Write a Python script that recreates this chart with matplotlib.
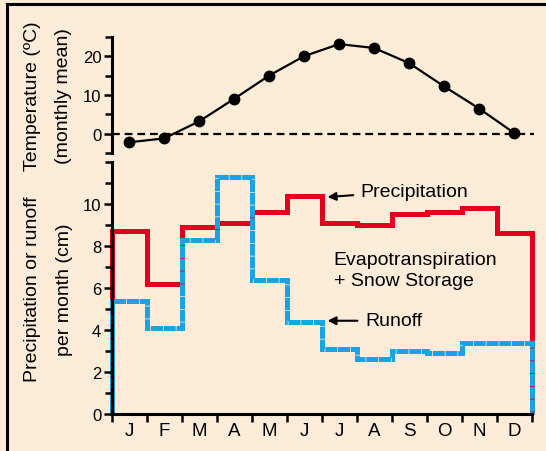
import matplotlib.pyplot as plt
from matplotlib.lines import Line2D

plt.rcParams['font.family'] = ['Liberation Sans', 'DejaVu Sans']

months = ['J', 'F', 'M', 'A', 'M', 'J', 'J', 'A', 'S', 'O', 'N', 'D']
temperature = [-2.2, -1.2, 3.2, 9.0, 15.0, 20.0, 23.1, 22.1, 18.2, 12.2, 6.5, 0.2]
precipitation = [8.7, 6.2, 8.9, 9.1, 9.6, 10.4, 9.1, 9.0, 9.5, 9.6, 9.8, 8.6]
runoff = [5.4, 4.1, 8.3, 11.3, 6.4, 4.4, 3.1, 2.6, 3.0, 2.9, 3.4, 3.4]

BG = '#FDECD8'
RED = '#E2001F'
BLUE = '#1AA3E3'

fig = plt.figure(figsize=(5.46, 4.52), dpi=100, facecolor=BG)
# frame lines (only left and top are visible in the original)
fig.add_artist(Line2D([0.0128, 0.0128], [0, 0.99], transform=fig.transFigure, color='k', lw=2.2))
fig.add_artist(Line2D([0.0128, 1.0], [0.99, 0.99], transform=fig.transFigure, color='k', lw=2.2))

ax_t = fig.add_axes([0.2046, 0.659, 0.769, 0.2575], facecolor='none')
ax_b = fig.add_axes([0.2046, 0.0819, 0.769, 0.5575], facecolor='none')

def style(ax):
    for s in ['top', 'right']:
        ax.spines[s].set_visible(False)
    for s in ['left', 'bottom']:
        ax.spines[s].set_linewidth(2.2)
    ax.tick_params(which='both', width=1.8, direction='out', labelsize=12)
    ax.tick_params(which='major', length=5.5, pad=2)
    ax.tick_params(which='minor', length=5)

# --- temperature panel
style(ax_t)
ax_t.spines['bottom'].set_visible(False)
xc = [i + 0.5 for i in range(12)]
ax_t.plot([0, 12.08], [0, 0], color='k', lw=1.6, dashes=(3.5, 2.2), clip_on=False)
ax_t.plot(xc, temperature, color='k', lw=1.6, marker='o', markersize=7.5, clip_on=False)
ax_t.set_xlim(0, 12)
ax_t.set_ylim(-5, 25)
ax_t.set_yticks([0, 10, 20])
ax_t.set_yticks([-5, 5, 15, 25], minor=True)
ax_t.set_xticks([])

# --- precipitation / runoff panel
style(ax_b)
edges = list(range(13))
ax_b.stairs(precipitation, edges, baseline=0, color=RED, lw=3.6, clip_on=False)
ax_b.stairs(runoff, edges, baseline=0, color=BLUE, lw=3.6, clip_on=False,
            linestyle=(0, (2.4, 0.15)))
ax_b.set_xlim(0, 12)
ax_b.set_ylim(0, 12)
ax_b.set_yticks([0, 2, 4, 6, 8, 10])
ax_b.set_yticks([1, 3, 5, 7, 9, 11, 12], minor=True)
ax_b.set_xticks(edges)
ax_b.set_xticklabels([])
ax_b.set_xticks(xc, minor=True)
ax_b.set_xticklabels(months, minor=True)
ax_b.tick_params(axis='x', which='minor', length=0, pad=6, labelsize=13.5)

ax_b.text(7.12, 10.6, 'Precipitation', fontsize=14, va='center', ha='left')
ax_b.annotate('', xy=(6.09, 10.32), xytext=(6.98, 10.43),
              arrowprops=dict(arrowstyle='-|>', color='k', lw=1.5, mutation_scale=12))
ax_b.text(7.26, 4.44, 'Runoff', fontsize=14, va='center', ha='left')
ax_b.annotate('', xy=(6.09, 4.44), xytext=(7.1, 4.44),
              arrowprops=dict(arrowstyle='-|>', color='k', lw=1.5, mutation_scale=12))
ax_b.text(6.34, 6.85, 'Evapotranspiration\n+ Snow Storage', fontsize=14,
          va='center', ha='left', linespacing=1.35)

fig.text(0.060, 0.787, 'Temperature (ºC)', rotation=90, ha='center', va='center', fontsize=14)
fig.text(0.116, 0.787, '(monthly mean)', rotation=90, ha='center', va='center', fontsize=14)
fig.text(0.060, 0.36, 'Precipitation or runoff', rotation=90, ha='center', va='center', fontsize=14)
fig.text(0.119, 0.36, 'per month (cm)', rotation=90, ha='center', va='center', fontsize=14)

fig.savefig('out.png', dpi=100, facecolor=BG)
